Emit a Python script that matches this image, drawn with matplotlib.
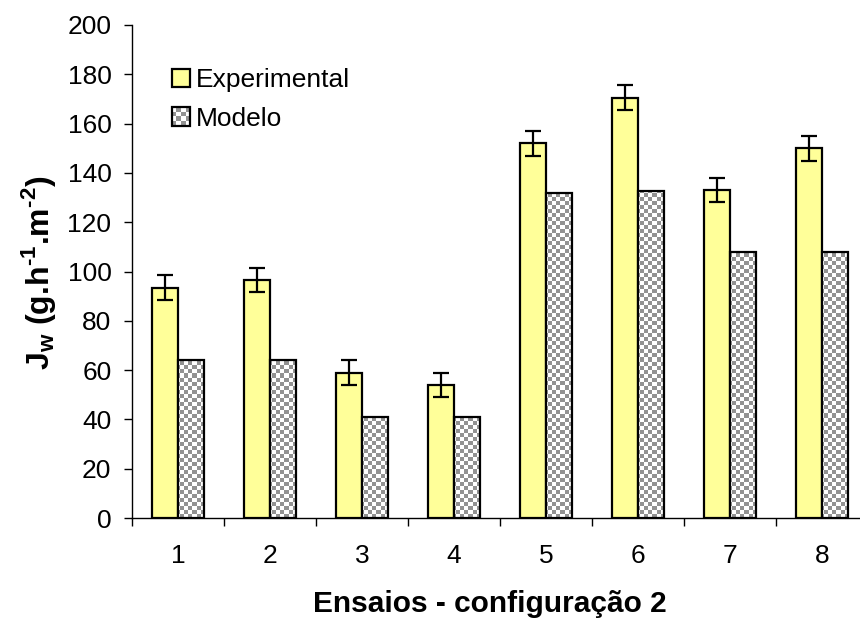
import numpy as np
import matplotlib
matplotlib.use('Agg')
import matplotlib.pyplot as plt
from matplotlib.patches import Rectangle
from matplotlib.legend_handler import HandlerBase

plt.rcParams['font.family'] = 'Liberation Sans'
plt.rcParams['mathtext.fontset'] = 'custom'
plt.rcParams['mathtext.rm'] = 'Liberation Sans'
plt.rcParams['mathtext.bf'] = 'Liberation Sans:bold'

ensaios = ['1', '2', '3', '4', '5', '6', '7', '8']
experimental = [93.5, 96.5, 59, 54, 152, 170.5, 133, 150]
erro = [5, 5, 5, 5, 5, 5, 5, 5]
modelo = [64, 64, 41, 41, 132, 132.5, 108, 108]

yellow = '#ffff99'
gray = '#929292'
w = 0.285

fig = plt.figure(figsize=(8.6, 6.22), dpi=100)
ax = fig.add_axes([132/860, 104/622, 736/860, 493/622])

x = np.arange(1, len(ensaios) + 1)

ax.bar(x - w/2, experimental, w, color=yellow, edgecolor='k', linewidth=1.6, zorder=2)
ax.errorbar(x - w/2, experimental, yerr=erro, fmt='none', ecolor='k',
            elinewidth=1.6, capsize=6, capthick=1.6, zorder=3)
bars = ax.bar(x + w/2, modelo, w, color='none', edgecolor='k', linewidth=1.6, zorder=3)

# checkerboard fill for the model bars, clipped to each bar
nx, ny = 736 // 4, 493 // 4
checker = (np.add.outer(np.arange(ny), np.arange(nx)) % 2).astype(float)
cmap = matplotlib.colors.ListedColormap([gray, 'white'])
for b in bars:
    im = ax.imshow(checker, cmap=cmap, interpolation='nearest', aspect='auto',
                   extent=(0.5, len(ensaios) + 0.5, 0, 200), origin='lower', zorder=2)
    im.set_clip_path(b)
ax.set_xlim(0.5, len(ensaios) + 0.5)
ax.set_ylim(0, 200)


class CheckerHandler(HandlerBase):
    def create_artists(self, legend, orig_handle, xd, yd, width, height, fontsize, trans):
        arts = []
        s = height
        x0 = xd + (width - s) / 2
        n = 4
        c = s / n
        for i in range(n):
            for j in range(n):
                col = gray if (i + j) % 2 == 0 else 'white'
                arts.append(Rectangle((x0 + i*c, -yd + j*c), c, c, facecolor=col,
                                      edgecolor='none', transform=trans))
        arts.append(Rectangle((x0, -yd), s, s, facecolor='none', edgecolor='k',
                              linewidth=1.6, transform=trans))
        return arts


class SquareHandler(HandlerBase):
    def create_artists(self, legend, orig_handle, xd, yd, width, height, fontsize, trans):
        s = height
        x0 = xd + (width - s) / 2
        return [Rectangle((x0, -yd), s, s, facecolor=yellow, edgecolor='k',
                          linewidth=1.6, transform=trans)]


h1 = Rectangle((0, 0), 1, 1)
h2 = Rectangle((0, 0), 1, 1)
ax.legend([h1, h2], ['Experimental', 'Modelo'],
          handler_map={h1: SquareHandler(), h2: CheckerHandler()},
          loc='upper left', bbox_to_anchor=(0.054, 0.912), frameon=False,
          fontsize=19, handlelength=0.7, handleheight=0.7, handletextpad=0.2,
          labelspacing=0.54, borderaxespad=0, borderpad=0)

for s in ['top', 'right']:
    ax.spines[s].set_visible(False)
ax.spines['left'].set_linewidth(1.0)
ax.spines['bottom'].set_linewidth(1.0)

ax.set_yticks(np.arange(0, 201, 20))
ax.tick_params(axis='y', direction='out', length=5.8, width=1, labelsize=19, pad=9)
ax.set_xticks(np.arange(0.5, len(ensaios) + 1, 1))
ax.set_xticklabels([])
ax.set_xticks(x, minor=True)
ax.set_xticklabels(ensaios, minor=True)
ax.tick_params(axis='x', which='major', direction='out', length=5.8, width=1)
ax.tick_params(axis='x', which='minor', length=0, labelsize=19, pad=18.5)

ax.set_xlabel('Ensaios - configuração 2', fontsize=21.5, fontweight='bold')
ax.xaxis.set_label_coords(0.486, -0.147)
# plain bold text with math only for the sub/superscripts (hyphen, not minus)
ax.set_ylabel('J$_\\mathbf{w}$ (g.h$^\\mathbf{\u20101}$.m$^\\mathbf{\u20102}$)',
              fontsize=23, fontweight='bold')
ax.yaxis.set_label_coords(-0.1, 0.497)

fig.savefig('out.png', dpi=100)
